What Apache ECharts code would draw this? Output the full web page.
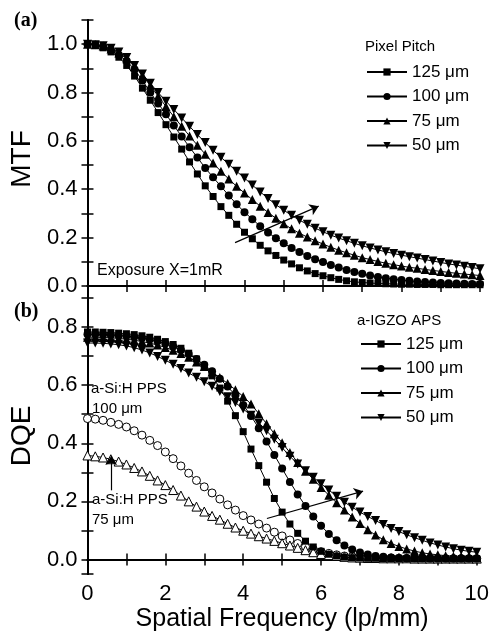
<!DOCTYPE html>
<html><head><meta charset="utf-8">
<script src="https://cdn.jsdelivr.net/npm/echarts@6/dist/echarts.min.js"></script>
<style>html,body{margin:0;padding:0;background:#fff}#c{width:492px;height:637px}</style>
</head><body><div id="c"></div>
<script>
const freq = [0,0.2,0.4,0.6,0.8,1.0,1.2,1.4,1.6,1.8,2.0,2.2,2.4,2.6,2.8,3.0,3.2,3.4,3.6,3.8,4.0,4.2,4.4,4.6,4.8,5.0,5.2,5.4,5.6,5.8,6.0,6.2,6.4,6.6,6.8,7.0,7.2,7.4,7.6,7.8,8.0,8.2,8.4,8.6,8.8,9.0,9.2,9.4,9.6,9.8,10.0];
const xTicks = [0,2,4,6,8,10];
const mtf125 = [1.0,0.997,0.985,0.968,0.946,0.912,0.868,0.818,0.768,0.717,0.667,0.616,0.566,0.513,0.463,0.414,0.37,0.328,0.292,0.255,0.222,0.195,0.168,0.145,0.126,0.107,0.091,0.075,0.062,0.051,0.042,0.034,0.027,0.021,0.017,0.014,0.012,0.010,0.009,0.008,0.007,0.007,0.006,0.006,0.006,0.005,0.005,0.005,0.005,0.005,0.005];
const mtf100 = [1.0,0.998,0.99,0.975,0.955,0.93,0.895,0.85,0.80,0.755,0.71,0.664,0.618,0.574,0.531,0.488,0.449,0.412,0.374,0.338,0.305,0.276,0.247,0.221,0.197,0.176,0.157,0.14,0.124,0.11,0.099,0.087,0.076,0.066,0.058,0.05,0.043,0.037,0.032,0.028,0.024,0.021,0.018,0.016,0.014,0.012,0.011,0.01,0.009,0.008,0.008];
const mtf75 = [1.0,0.998,0.992,0.98,0.963,0.94,0.91,0.87,0.83,0.785,0.742,0.70,0.66,0.62,0.582,0.545,0.508,0.474,0.442,0.412,0.384,0.357,0.33,0.304,0.28,0.257,0.236,0.218,0.202,0.187,0.173,0.16,0.148,0.137,0.127,0.117,0.109,0.101,0.094,0.088,0.082,0.077,0.073,0.068,0.064,0.06,0.056,0.052,0.049,0.046,0.043];
const mtf50 = [1.0,0.998,0.993,0.983,0.968,0.945,0.912,0.877,0.838,0.80,0.764,0.73,0.695,0.66,0.626,0.593,0.561,0.532,0.503,0.474,0.446,0.417,0.389,0.362,0.336,0.313,0.292,0.272,0.255,0.239,0.224,0.21,0.198,0.187,0.176,0.166,0.157,0.149,0.141,0.134,0.127,0.121,0.115,0.109,0.103,0.097,0.091,0.086,0.081,0.076,0.071];
const dqe125 = [0.783,0.783,0.782,0.781,0.779,0.777,0.774,0.77,0.765,0.758,0.75,0.74,0.727,0.71,0.69,0.665,0.632,0.59,0.545,0.495,0.44,0.38,0.323,0.266,0.21,0.163,0.122,0.09,0.063,0.043,0.028,0.018,0.012,0.008,0.006,0.005,0.004,0.004,0.003,0.003,0.003,0.003,0.002,0.002,0.002,0.002,0.002,0.002,0.002,0.002,0.002];
const dqe100 = [0.775,0.775,0.774,0.773,0.771,0.769,0.766,0.762,0.757,0.751,0.743,0.733,0.721,0.707,0.69,0.67,0.648,0.622,0.595,0.565,0.532,0.494,0.452,0.406,0.36,0.313,0.267,0.224,0.184,0.148,0.116,0.088,0.066,0.048,0.034,0.024,0.017,0.012,0.009,0.007,0.005,0.004,0.004,0.004,0.003,0.003,0.003,0.003,0.003,0.003,0.003];
const dqe75 = [0.765,0.765,0.764,0.763,0.761,0.758,0.755,0.75,0.745,0.738,0.73,0.72,0.709,0.696,0.68,0.664,0.645,0.626,0.606,0.584,0.561,0.535,0.502,0.467,0.433,0.402,0.368,0.334,0.304,0.276,0.248,0.221,0.195,0.17,0.146,0.124,0.102,0.084,0.068,0.055,0.045,0.036,0.029,0.023,0.019,0.016,0.013,0.011,0.01,0.009,0.008];
const dqe50 = [0.745,0.745,0.744,0.742,0.739,0.735,0.729,0.721,0.711,0.699,0.686,0.672,0.657,0.642,0.627,0.612,0.596,0.578,0.56,0.54,0.518,0.496,0.47,0.443,0.414,0.385,0.355,0.329,0.305,0.283,0.261,0.239,0.218,0.197,0.18,0.163,0.148,0.134,0.12,0.107,0.096,0.085,0.075,0.066,0.057,0.05,0.043,0.037,0.032,0.028,0.025];
const dqeSi100 = [0.485,0.483,0.479,0.472,0.465,0.456,0.443,0.428,0.41,0.392,0.37,0.347,0.322,0.297,0.272,0.25,0.229,0.208,0.188,0.17,0.151,0.136,0.122,0.108,0.094,0.081,0.067,0.055,0.044,0.035,0.027,0.021,0.016,0.012,0.01,0.008,0.007,0.006,0.005,0.005,0.004,0.004,0.004,0.004,0.004,0.003,0.003,0.003,0.003,0.003,0.003];
const dqeSi75 = [0.358,0.355,0.351,0.345,0.337,0.327,0.315,0.303,0.288,0.272,0.256,0.239,0.22,0.2,0.182,0.165,0.15,0.137,0.123,0.11,0.099,0.089,0.08,0.072,0.064,0.056,0.048,0.04,0.032,0.025,0.019,0.015,0.012,0.009,0.007,0.006,0.005,0.005,0.004,0.004,0.004,0.004,0.003,0.003,0.003,0.003,0.003,0.003,0.003,0.003,0.003];
const pitchNames = ['125 μm','100 μm','75 μm','50 μm'];

const FONT = 'Liberation Sans, Arial, sans-serif';
const chart = echarts.init(document.getElementById('c'), null, {renderer:'canvas'});
const pairs = ys => freq.map((x,i)=>[x, ys[i]]);
const yLab = maxLab => v => {
  const k = Math.round(v*10);
  if (Math.abs(v*10-k) > 1e-6 || k % 2 !== 0 || k < 0 || v > maxLab + 1e-9) return '';
  return v.toFixed(1);
};
const xLab = v => xTicks.indexOf(Math.round(v)) >= 0 && Math.abs(v-Math.round(v))<1e-9 ? String(Math.round(v)) : '';
const axLine = {show:true, lineStyle:{color:'#000', width:2}};
const tick = {show:true, inside:true, length:6, lineStyle:{color:'#000', width:1.5}};
function xAx(grid, pos, labels){
  const a = {type:'value', gridIndex:grid, position:pos, min:0, max:10, interval:1,
    axisLine:axLine, axisTick:tick, splitLine:{show:false},
    axisLabel:{show:labels, formatter:xLab, fontSize:22, color:'#000', fontFamily:FONT, margin:9}};
  if (labels) Object.assign(a, {name:'Spatial Frequency (lp/mm)', nameLocation:'middle', nameGap:33,
    nameTextStyle:{fontSize:25, color:'#000', fontFamily:FONT}});
  return a;
}
function yAx(grid, pos, mx, split, labels, maxLab, name){
  const a = {type:'value', gridIndex:grid, position:pos, min:-0.05, max:mx, splitNumber:split,
    axisLine:axLine, axisTick:tick, splitLine:{show:false},
    axisLabel:{show:labels, formatter:yLab(maxLab), fontSize:22, color:'#000', fontFamily:FONT, margin:10}};
  if (name) Object.assign(a, {name:name, nameLocation:'middle', nameGap:50,
    nameTextStyle:{fontSize:28, color:'#000', fontFamily:FONT}});
  return a;
}
function ser(name, ys, xi, yi, sym, size, rot, open){
  return {type:'line', name:name, data:pairs(ys), xAxisIndex:xi, yAxisIndex:yi,
    symbol:sym, symbolSize:size, symbolRotate:rot||0, showAllSymbol:true,
    lineStyle:{color:'#000', width:1}, 
    itemStyle: open ? {color:'#fff', borderColor:'#000', borderWidth:1} : {color:'#000', borderWidth:0},
    animation:false, clip:false};
}
function arrow(xi, yi, from, to){
  return {type:'line', xAxisIndex:xi, yAxisIndex:yi, data:[], animation:false,
    markLine:{silent:true, animation:false, symbol:['none','arrow'], symbolSize:9,
      lineStyle:{color:'#000', width:1.2, type:'solid'}, label:{show:false},
      data:[[{coord:from},{coord:to}]]}};
}
const txt = (left, top, text, size, extra) => ({type:'text', left:left, top:top,
  style:Object.assign({text:text, fontSize:size, fontFamily:FONT, fill:'#000'}, extra||{})});

const legendBase = {orient:'vertical', itemWidth:40, itemHeight:9, itemGap:4.5, data:pitchNames,
  textStyle:{fontSize:17, fontFamily:FONT, color:'#000', lineHeight:20}, selectedMode:false};

chart.setOption({
  animation:false,
  backgroundColor:'#fff',
  grid:[{left:86, top:20, width:394, height:278},{left:86, top:298, width:394, height:276}],
  xAxis:[xAx(0,'bottom',false), xAx(0,'top',false), xAx(1,'bottom',true), xAx(1,'top',false)],
  yAxis:[yAx(0,'left',1.1,11,true,1.0,'MTF'), yAx(0,'right',1.1,11,false,1.0,null),
         yAx(1,'left',0.9,10,true,0.8,'DQE'), yAx(1,'right',0.9,10,false,0.8,null)],
  legend:[Object.assign({left:361, top:57}, legendBase), Object.assign({left:355, top:329}, legendBase)],
  series:[
    ser(pitchNames[0], mtf125, 0, 0, 'rect', 7),
    ser(pitchNames[1], mtf100, 0, 0, 'circle', 8),
    ser(pitchNames[2], mtf75, 0, 0, 'triangle', 9),
    ser(pitchNames[3], mtf50, 0, 0, 'triangle', 9, 180),
    ser('a-Si:H PPS 100 μm', dqeSi100, 2, 2, 'circle', 8, 0, true),
    ser('a-Si:H PPS 75 μm', dqeSi75, 2, 2, 'triangle', 9, 0, true),
    ser(pitchNames[0], dqe125, 2, 2, 'rect', 7),
    ser(pitchNames[1], dqe100, 2, 2, 'circle', 8),
    ser(pitchNames[2], dqe75, 2, 2, 'triangle', 9),
    ser(pitchNames[3], dqe50, 2, 2, 'triangle', 9, 180),
    arrow(0, 0, [3.76, 0.179], [5.89, 0.33]),
    arrow(2, 2, [4.61, 0.141], [7.08, 0.235]),
    arrow(2, 2, [0.61, 0.238], [0.61, 0.356])
  ],
  graphic:[
    txt(14, 11, '(a)', 20, {fontFamily:'Liberation Serif, Times New Roman, serif', fontWeight:'bold'}),
    txt(14, 302, '(b)', 20, {fontFamily:'Liberation Serif, Times New Roman, serif', fontWeight:'bold'}),
    txt(365, 39, 'Pixel Pitch', 15),
    txt(357, 313, 'a-IGZO APS', 15),
    txt(97, 263, 'Exposure X=1mR', 16),
    txt(91, 381, 'a-Si:H PPS', 15),
    txt(92, 401, '100 μm', 15),
    txt(92, 492, 'a-Si:H PPS', 15),
    txt(92, 512, '75 μm', 15)
  ]
});
</script></body></html>
